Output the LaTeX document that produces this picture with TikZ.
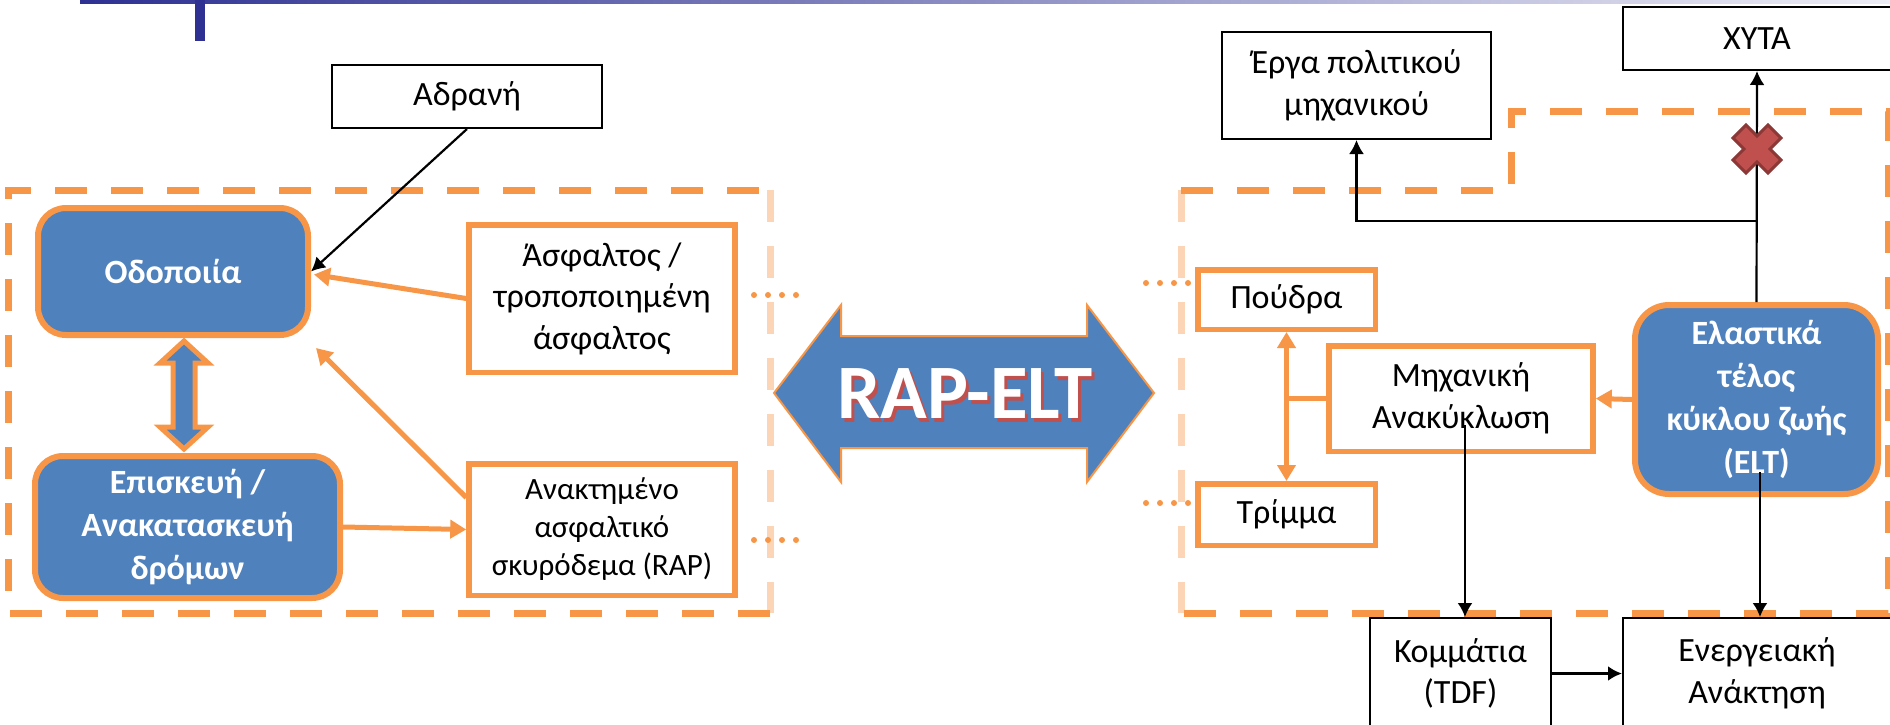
\documentclass[tikz,border=0pt]{standalone}
\usepackage{fontspec}
\setmainfont{Carlito}
\usetikzlibrary{arrows.meta,calc}
\definecolor{ob}{HTML}{F79646}
\definecolor{olight}{HTML}{FBD5B5}
\definecolor{bb}{HTML}{4F81BD}
\definecolor{rx}{HTML}{C0504D}
\definecolor{rxd}{HTML}{8C3836}
\definecolor{navy}{HTML}{2E3192}
\definecolor{navyl}{HTML}{EDEDF6}
\newcommand{\rapword}{RAP-ELT}
\begin{document}
\begin{tikzpicture}[x=0.5pt,y=-0.5pt,
  txt/.style={font=\fontsize{17}{20.75}\selectfont, align=center},
  obox/.style={txt, draw=ob, line width=2.75pt, fill=white, inner sep=0pt},
  kbox/.style={txt, draw=black, line width=1pt, fill=white, inner sep=0pt},
  bbox/.style={txt, font=\fontsize{17}{21.5}\selectfont\bfseries, text=white, draw=ob, fill=bb, line width=3pt, rounded corners=14pt, inner sep=0pt},
  dashline/.style={line width=3.5pt, dash pattern=on 16pt off 12pt},
  oarrow/.style={draw=ob, line width=2.5pt, -{Triangle[length=8pt,width=9pt]}},
  karrow/.style={draw=black, line width=1.1pt, -{Latex[length=7pt,width=7.5pt]}},
  dotline/.style={draw=ob, line width=3pt, line cap=round, dash pattern=on 0pt off 7pt},
  rapfont/.style={font=\fontsize{38.5}{40}\selectfont\bfseries, inner sep=0pt},
]
\clip (0,0) rectangle (1890,724);
% top decoration
\shade[left color=navy, right color=navyl] (80,0) rectangle (1890,3);
\fill[navy] (195,0) rectangle (205,41);

% dashed groups
\draw[dashline, draw=olight] (770,190) -- (770,613);
\draw[dashline, draw=ob] (770,613) -- (8,613) -- (8,190) -- (770,190);
\draw[dashline, draw=olight] (1181,190) -- (1181,613);
\draw[dashline, draw=ob] (1181,190) -- (1511,190) -- (1511,111) -- (1888,111) -- (1888,613) -- (1181,613);

% dotted continuations
\draw[dotline] (754,295) -- (797,295);
\draw[dotline] (754,540) -- (797,540);
\draw[dotline] (1146,283) -- (1189,283);
\draw[dotline] (1146,503) -- (1189,503);

% big double arrow
\path[fill=bb, draw=ob, line width=1pt] (774,393) -- (841,305) -- (841,336) -- (1087,336) -- (1087,305) -- (1154,393) -- (1087,482) -- (1087,448) -- (841,448) -- (841,482) -- cycle;
\node[rapfont] (rap) at (965,394) {\rlap{\smash{\hspace{1.6pt}\raisebox{-1.6pt}{\textcolor{rx}{\rapword}}}}\textcolor{white}{\rapword}};

% left nodes
\node[kbox, minimum width=135pt, minimum height=31.5pt] (adr) at (467,96.5) {Αδρανή};
\node[bbox, minimum width=135pt, minimum height=63.5pt] (odo) at (173,271.5) {Οδοποιία};
\node[obox, minimum width=133pt, minimum height=73.75pt] (asf) at (602,298.5) {Άσφαλτος /\\τροποποιημένη\\άσφαλτος};
\node[bbox, minimum width=152.5pt, minimum height=71pt] (epi) at (187.5,527) {Επισκευή /\\Ανακατασκευή\\δρόμων};
\node[obox, font=\fontsize{15.5}{19}\selectfont, minimum width=133pt, minimum height=65.75pt] (ana) at (602,529.5) {Ανακτημένο\\ασφαλτικό\\σκυρόδεμα (RAP)};

% vertical blue double arrow
\path[fill=bb, draw=ob, line width=2.5pt] (184,341) -- (208,363) -- (195,363) -- (195,427) -- (208,427) -- (184,449) -- (160,427) -- (173,427) -- (173,363) -- (160,363) -- cycle;

% right nodes
\node[kbox, minimum width=134.5pt, minimum height=53.5pt] (ergo) at (1356.5,85.5) {Έργα πολιτικού\\μηχανικού};
\node[kbox, minimum width=134pt, minimum height=31.5pt] (xyta) at (1757,38.5) {ΧΥΤΑ};
\node[obox, minimum width=88.75pt, minimum height=29.75pt] (poud) at (1286.5,299.5) {Πούδρα};
\node[obox, minimum width=132pt, minimum height=52.75pt] (mich) at (1461,398.5) {Μηχανική\\Ανακύκλωση};
\node[obox, minimum width=88.75pt, minimum height=30.75pt] (trim) at (1286.5,514.5) {Τρίμμα};
\node[bbox, rounded corners=17pt, minimum width=121.5pt, minimum height=94.5pt] (elt) at (1756.5,399.5) {Ελαστικά\\τέλος\\κύκλου ζωής\\(ELT)};
\node[kbox, minimum width=90.5pt, minimum height=55.5pt] (komm) at (1460.5,673.5) {Κομμάτια\\(TDF)};
\node[kbox, minimum width=134pt, minimum height=55.5pt] (ener) at (1757,673.5) {Ενεργειακή\\Ανάκτηση};

% left connectors
\draw[karrow] (adr.south) -- (odo.east);
\draw[oarrow] (asf.west) -- ($(odo.east)+(3,3)$);
\draw[oarrow] ($(ana.west)+(0,-32)$) -- ($(odo.south east)+(5,10)$);
\draw[oarrow] (epi.east) -- (ana.west);

% right connectors
\coordinate (br) at (1757,221);
\draw[karrow] (elt.north) -- (xyta.south);
\draw[karrow] (br) -| (ergo.south);
\path[fill=rx, draw=rxd, line width=1.5pt] (1757,136) -- (1768,125) -- (1781,138) -- (1770,149) -- (1781,160) -- (1768,173) -- (1757,162) -- (1746,173) -- (1733,160) -- (1744,149) -- (1733,138) -- (1746,125) -- cycle;

\draw[oarrow] (elt.west) -- (mich.east);
\draw[draw=ob, line width=2.5pt, {Triangle[length=8pt,width=9pt]}-{Triangle[length=8pt,width=9pt]}] (poud.south) -- (trim.north);
\draw[draw=ob, line width=2.5pt] (mich.west) -- (mich.west -| poud.south);

\coordinate (m1) at (1465,425);
\draw[karrow] (m1) -- (m1 |- komm.north);
\coordinate (e1) at (1760,472);
\draw[karrow] (e1) -- (e1 |- ener.north);
\draw[karrow, line width=1.6pt] (komm.east) -- (ener.west);
\end{tikzpicture}
\end{document}
